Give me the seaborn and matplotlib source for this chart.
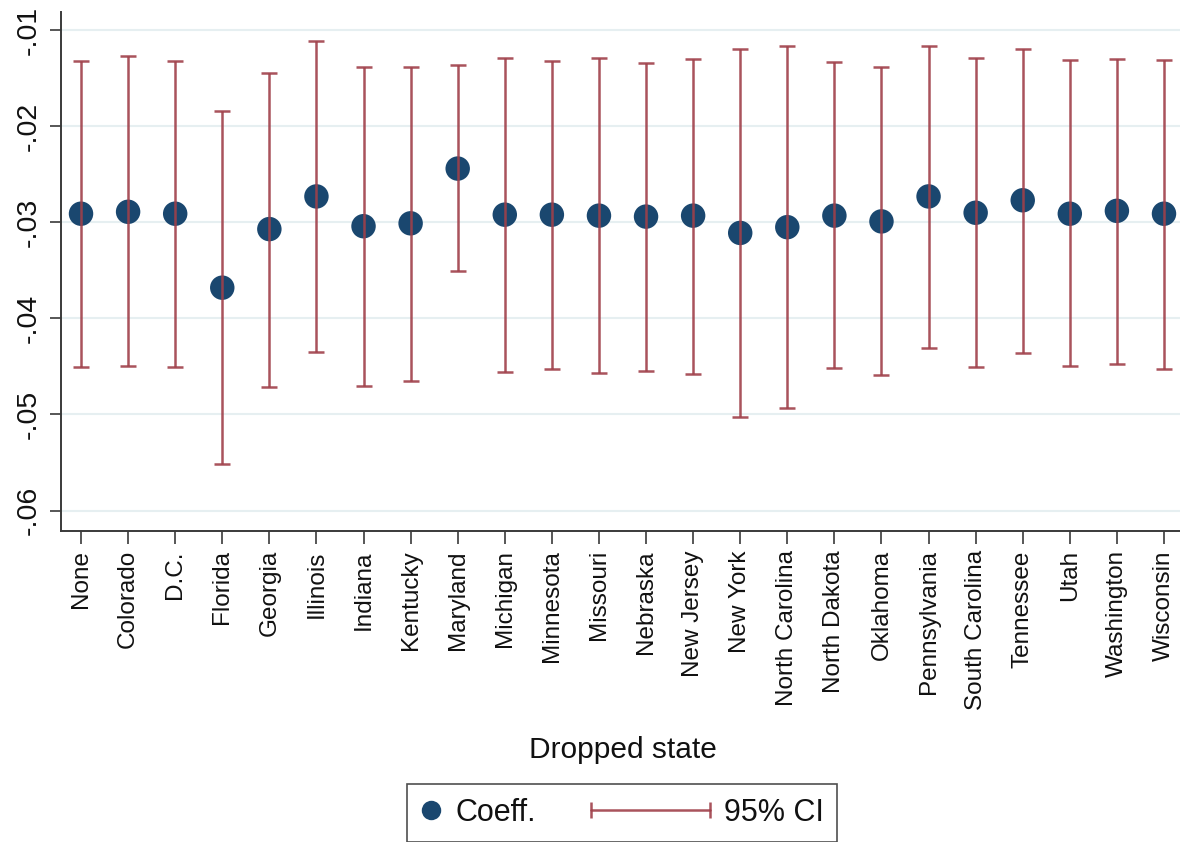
import numpy as np
import pandas as pd
import seaborn as sns
import matplotlib
matplotlib.use("Agg")
import matplotlib.pyplot as plt
from matplotlib.lines import Line2D
from matplotlib.legend_handler import HandlerBase
from matplotlib.ticker import FuncFormatter

# Leave-one-state-out estimates
states = ["None", "Colorado", "D.C.", "Florida", "Georgia", "Illinois", "Indiana",
          "Kentucky", "Maryland", "Michigan", "Minnesota", "Missouri", "Nebraska",
          "New Jersey", "New York", "North Carolina", "North Dakota", "Oklahoma",
          "Pennsylvania", "South Carolina", "Tennessee", "Utah", "Washington",
          "Wisconsin"]

coef = [-0.0291, -0.0289, -0.0291, -0.0368, -0.0307, -0.0273, -0.0304, -0.0301,
        -0.0244, -0.0292, -0.0292, -0.0293, -0.0294, -0.0293, -0.0311, -0.0305,
        -0.0293, -0.0299, -0.0273, -0.0290, -0.0277, -0.0291, -0.0288, -0.0291]

ci_hi = [-0.0132, -0.0127, -0.0132, -0.0184, -0.0144, -0.0111, -0.0138, -0.0138,
         -0.0136, -0.0129, -0.0132, -0.0129, -0.0134, -0.0130, -0.0119, -0.0116,
         -0.0133, -0.0138, -0.0116, -0.0129, -0.0119, -0.0131, -0.0130, -0.0131]

ci_lo = [-0.0451, -0.0450, -0.0451, -0.0552, -0.0471, -0.0435, -0.0470, -0.0465,
         -0.0351, -0.0456, -0.0453, -0.0457, -0.0455, -0.0458, -0.0503, -0.0493,
         -0.0452, -0.0459, -0.0431, -0.0451, -0.0436, -0.0450, -0.0447, -0.0453]

yticks = [-0.06, -0.05, -0.04, -0.03, -0.02, -0.01]

df = pd.DataFrame({"state": states, "coef": coef, "lo": ci_lo, "hi": ci_hi})

NAVY = "#1a476f"
MAROON = "#a0404a"
GRID = "#e6eff1"
AXIS = "#3a3a3a"

sns.set_theme(style="white")
plt.rcParams["font.family"] = ["Liberation Sans", "DejaVu Sans"]

fig = plt.figure(figsize=(11.8, 8.42), dpi=100)
W, H = 1180, 842
left, right, top, bottom = 61, 1184, 12, 530.7
ax = fig.add_axes([left / W, (H - bottom) / H, (right - left) / W, (bottom - top) / H])

sns.scatterplot(data=df, x="state", y="coef", ax=ax, color=NAVY, s=310,
                edgecolor="none", linewidth=0, zorder=2, legend=False)

yerr = np.vstack([df["coef"] - df["lo"], df["hi"] - df["coef"]])
ax.errorbar(df["state"], df["coef"], yerr=yerr, fmt="none", ecolor=MAROON,
            elinewidth=1.8, capsize=6, capthick=1.8, alpha=0.9, zorder=3)

ax.set_xlim(-0.425, len(states) - 1 + 0.425)
ax.set_ylim(-0.0621, -0.0081)
ax.set_yticks(yticks)
ax.yaxis.set_major_formatter(FuncFormatter(lambda v, p: f"{v:.2f}".replace("0.", ".")))
ax.grid(axis="y", color=GRID, linewidth=1.5)
ax.grid(axis="x", visible=False)
ax.set_axisbelow(True)

for side in ("top", "right"):
    ax.spines[side].set_visible(False)
for side in ("left", "bottom"):
    ax.spines[side].set_color(AXIS)
    ax.spines[side].set_linewidth(1.4)

ax.tick_params(axis="x", which="major", length=9, width=1.2, color=AXIS,
               labelsize=17.5, labelrotation=90, pad=5, bottom=True)
ax.tick_params(axis="y", which="major", length=8, width=1.2, color=AXIS,
               labelsize=20.5, pad=6, left=True)
for lab in ax.get_yticklabels():
    lab.set_rotation(90)
    lab.set_va("center")
for lab in ax.get_xticklabels() + ax.get_yticklabels():
    lab.set_color("#111111")

ax.set_ylabel("")
ax.set_xlabel("Dropped state", fontsize=21.5, color="#111111")
ax.xaxis.set_label_coords(0.5, -0.396)


class CappedLineHandler(HandlerBase):
    """Horizontal line with end caps, extending left of the handle box."""

    def __init__(self, span, **kw):
        super().__init__(**kw)
        self.span = span

    def create_artists(self, legend, orig_handle, xdescent, ydescent,
                       width, height, fontsize, trans):
        y = height / 2 - ydescent
        x1 = width - xdescent
        x0 = x1 - self.span * fontsize
        line = Line2D([x0, x1], [y, y], color=MAROON, lw=1.8, alpha=0.9,
                      transform=trans)
        caps = Line2D([x0, x1], [y, y], ls="none", marker="|", markersize=12,
                      mew=1.8, color=MAROON, alpha=0.9, transform=trans)
        return [line, caps]


coef_handle = Line2D([], [], marker="o", ls="none", color=NAVY, markersize=14,
                     markeredgewidth=0)
ci_handle = Line2D([], [], color=MAROON)

leg = fig.legend([coef_handle, ci_handle], ["Coeff.", "95% CI"],
                 handler_map={ci_handle: CappedLineHandler(span=3.9)},
                 loc="upper center", bbox_to_anchor=(622 / W, (H - 784) / H),
                 ncol=2, fontsize=22, frameon=True, fancybox=False,
                 handlelength=0.7, handletextpad=0.45, columnspacing=5.0,
                 borderpad=0.45, borderaxespad=0)
leg.get_frame().set_edgecolor("#222222")
leg.get_frame().set_linewidth(1.2)
for t in leg.get_texts():
    t.set_color("#111111")

fig.savefig("out.png", dpi=100, facecolor="white")
